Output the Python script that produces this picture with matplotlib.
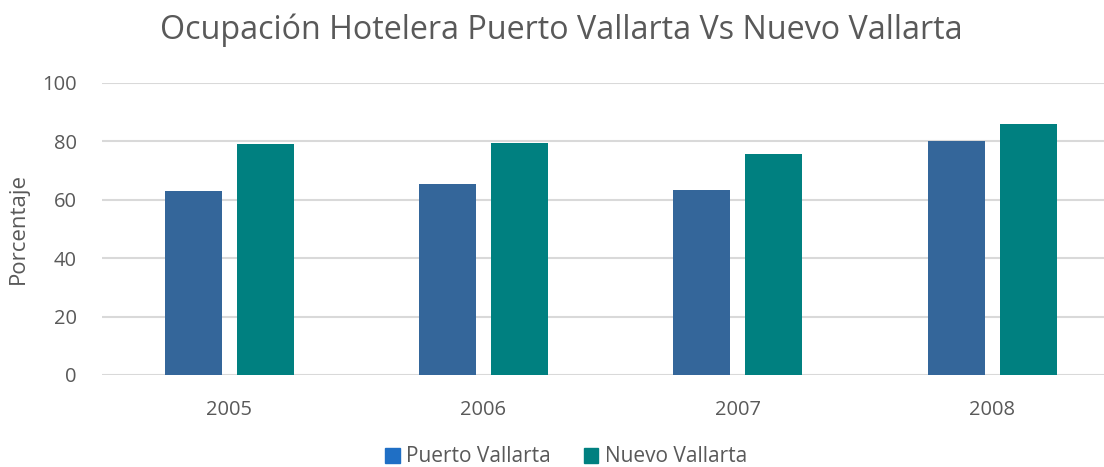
import matplotlib

matplotlib.use("Agg")
import matplotlib.pyplot as plt
import numpy as np
from matplotlib.patches import Patch

years = ["2005", "2006", "2007", "2008"]
puerto_vallarta = [63.0, 65.4, 63.4, 80.1]
nuevo_vallarta = [79.1, 79.6, 75.6, 86.0]

PV_COLOR = "#34669A"
NV_COLOR = "#008080"
PV_LEGEND = "#1F6FC5"
GRID = "#D9D9D9"
TEXT = "#595959"

plt.rcParams.update({
    "font.family": ["Open Sans", "DejaVu Sans"],
    "text.color": TEXT,
    "xtick.color": TEXT,
    "ytick.color": TEXT,
    "axes.labelcolor": TEXT,
})

fig = plt.figure(figsize=(11.04, 4.67), dpi=100)
ax = fig.add_axes([102 / 1104, 1 - 375 / 467, 1 - 102 / 1104, 292 / 467])

x = np.arange(len(years))
off = 0.1416
w = 0.224
ax.bar(x - off, puerto_vallarta, width=w, color=PV_COLOR, zorder=3)
ax.bar(x + off, nuevo_vallarta, width=w, color=NV_COLOR, zorder=3)

ax.set_xlim(-0.5, 3.44)
ax.set_ylim(0, 100)
ax.set_yticks(range(0, 101, 20))
ax.set_xticks(x)
ax.set_xticklabels(years)
ax.tick_params(axis="both", length=0, labelsize=14.5)
ax.tick_params(axis="y", pad=18)
ax.tick_params(axis="x", pad=18)
ax.grid(axis="y", color=GRID, linewidth=1.5, zorder=0)
for s in ax.spines.values():
    s.set_visible(False)

ax.set_ylabel("Porcentaje", fontsize=16, labelpad=10)

fig.text(561 / 1104, 1 - 30 / 467, "Ocupación Hotelera Puerto Vallarta Vs Nuevo Vallarta",
         ha="center", va="center", fontsize=23.2, color=TEXT)

handles = [Patch(color=PV_LEGEND, label="Puerto Vallarta"),
           Patch(color=NV_COLOR, label="Nuevo Vallarta")]
fig.legend(handles=handles, loc="center", bbox_to_anchor=(566 / 1104, 1 - 457 / 467),
           ncol=2, frameon=False, fontsize=15, handlelength=0.7, handleheight=0.7,
           handletextpad=0.3, columnspacing=1.6)

fig.savefig("out.png", dpi=100)
